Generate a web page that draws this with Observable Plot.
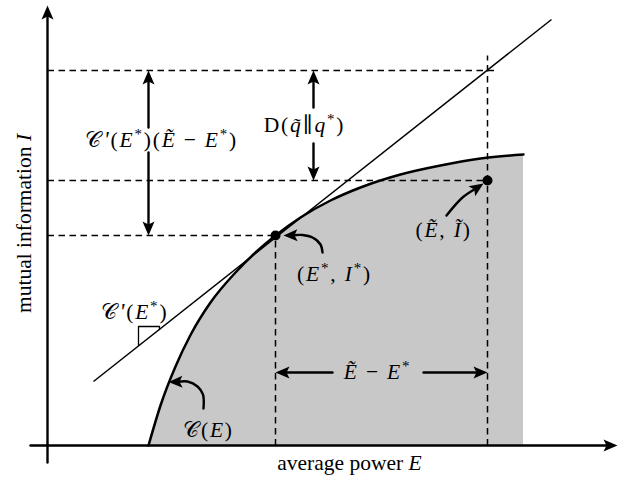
<!DOCTYPE html>
<html><head><meta charset="utf-8">
<script src="https://cdn.jsdelivr.net/npm/d3@7"></script>
<script src="https://cdn.jsdelivr.net/npm/@observablehq/plot@0.6"></script>
<style>body{margin:0;background:#fff} #chart svg{display:block}</style>
</head><body><div id="chart"></div>
<script>
// capacity-power curve C(E) (abstract units)
const curveE = [10.1, 11.3, 12.8, 14.3, 16.3, 18.8, 20.8, 22.8, 25.3, 28.3, 31.3, 35.3, 39.3, 43.3, 47.6];
const curveI = [0, 4.0, 7.9, 11.05, 14.3, 17.3, 19.3, 21.0, 22.8, 24.5, 25.8, 27.1, 28.0, 28.7, 29.1];
// marked points (E*, I*) and (Ẽ, Ĩ)
const pointE = [22.8, 44.0];
const pointI = [21.0, 26.5];
// tangent line at E*
const tangentE = [4.6, 50.4];
const tangentI = [6.4, 42.6];
// dashed guide segments
const guideX1 = [0, 44.0, 0, 0, 22.8];
const guideY1 = [37.5, 0, 26.5, 21.0, 0];
const guideX2 = [45.0, 44.0, 44.0, 22.8, 22.8];
const guideY2 = [37.5, 39.0, 26.5, 21.0, 21.0];
// right-angle marker on the tangent
const markerE = [9.1, 9.1, 11.2, 11.2];
const markerI = [10.0, 11.9, 11.9, 11.6];
// arrows (polylines, last point = tip)
const arrowPaths = [
  [[0, -1.7], [0, 44.0]],                 // y axis
  [[-1.7, 0], [57.0, 0]],                 // x axis
  [[10.1, 31.8], [10.1, 37.5]],
  [[10.1, 29.3], [10.1, 21.0]],
  [[26.6, 33.8], [26.6, 37.5]],
  [[26.6, 30.2], [26.6, 26.5]],
  [[28.5, 7.3], [22.8, 7.3]],
  [[37.6, 7.3], [44.0, 7.3]],
  [[15.6, 3.7], [15.55, 5.1], [15.0, 5.9], [14.0, 6.4], [12.1, 6.35]],
  [[27.5, 19.3], [27.3, 20.1], [26.5, 20.8], [25.5, 21.05], [23.6, 21.0]],
  [[39.9, 23.0], [41.5, 24.8], [43.6, 26.2]]
];
// labels
const labelText = ["𝒞′({E}^*)({Ẽ} − {E}^*)", "D({q̃}∥{q}^*)", "({E}^*, {I}^*)", "({Ẽ}, {Ĩ})", "{Ẽ} − {E}^*", "𝒞({E})", "𝒞′({E}^*)"];
const labelX = [11.4, 25.7, 28.7, 39.6, 33.0, 16.1, 8.7];
const labelY = [30.55, 32.0, 17.1, 21.5, 7.3, 1.5, 13.3];
const xTitle = "average power {E}";
const yTitle = "mutual information {I}";

const curve = curveE.map((e, i) => ({e, i: curveI[i]}));
const points = pointE.map((e, i) => ({e, i: pointI[i]}));
const guides = guideX1.map((x, k) => ({x1: x, y1: guideY1[k], x2: guideX2[k], y2: guideY2[k]}));
const marker = markerE.map((e, k) => ({e, i: markerI[k]}));
const labels = labelText.map((t, k) => ({t, x: labelX[k], y: labelY[k]}));

// shafts (ending under the head) and heads
const shafts = [], heads = [];
arrowPaths.forEach((p, k) => {
  const [ax, ay] = p[p.length - 2], [bx, by] = p[p.length - 1];
  const dx = bx - ax, dy = by - ay, d = Math.hypot(dx, dy);
  const back = 0.9;
  p.forEach((pt, j) => {
    if (j < p.length - 1) shafts.push({x: pt[0], y: pt[1], k});
    else shafts.push({x: bx - dx / d * back, y: by - dy / d * back, k});
  });
  heads.push({x: bx, y: by, r: Math.atan2(dx, dy) * 180 / Math.PI});
});

const headShape = {
  draw(context, l) {
    context.moveTo(0, -l);
    context.lineTo(6, 0);
    context.lineTo(0, -3);
    context.lineTo(-6, 0);
    context.closePath();
  }
};

const font = "Liberation Serif, DejaVu Serif, serif";
const svg = Plot.plot({
  width: 624, height: 483,
  marginLeft: 47, marginRight: 7, marginTop: 5, marginBottom: 38,
  x: {domain: [0, 57], axis: null},
  y: {domain: [0, 44], axis: null},
  style: {background: "white", overflow: "visible"},
  marks: [
    Plot.areaY(curve, {x: "e", y: "i", fill: "#c8c8c8", curve: "monotone-x"}),
    Plot.link(guides, {x1: "x1", y1: "y1", x2: "x2", y2: "y2", stroke: "black", strokeWidth: 1.5, strokeDasharray: "6.5,4.5"}),
    Plot.link([0], {x1: () => tangentE[0], y1: () => tangentI[0], x2: () => tangentE[1], y2: () => tangentI[1], stroke: "black", strokeWidth: 1.5}),
    Plot.line(marker, {x: "e", y: "i", stroke: "black", strokeWidth: 1.3}),
    Plot.line(curve, {x: "e", y: "i", stroke: "black", strokeWidth: 2.5, curve: "monotone-x"}),
    Plot.line(shafts, {x: "x", y: "y", z: "k", stroke: "black", strokeWidth: 2.4, curve: "catmull-rom"}),
    Plot.vector(heads, {x: "x", y: "y", rotate: "r", length: 14, anchor: "end", shape: headShape, fill: "black", stroke: "none"}),
    Plot.dot(points, {x: "e", y: "i", r: 5, fill: "black"}),
    Plot.text(labels, {x: "x", y: "y", text: "t", fontSize: 21.5, fontFamily: font, fill: "black"}),
    Plot.text([xTitle], {x: 30.2, y: -1.8, text: d => d, fontSize: 21.5, fontFamily: font, fill: "black"}),
    Plot.text([yTitle], {x: -2.3, y: 22.2, text: d => d, rotate: -90, fontSize: 21.5, fontFamily: font, fill: "black"})
  ]
});

function typeset(root) {
  for (const t of root.querySelectorAll("text")) {
    const s = t.textContent;
    if (!/[{^′]/.test(s)) continue;
    if (/[(−]/.test(s)) t.setAttribute("letter-spacing", "1.8");
    while (t.firstChild) t.removeChild(t.firstChild);
    const chars = Array.from(s);
    let italic = false;
    const runs = [];
    for (let i = 0; i < chars.length; i++) {
      const c = chars[i];
      if (c === "{") { italic = true; continue; }
      if (c === "}") { italic = false; continue; }
      if (c === "^") { runs.push({text: chars[++i], italic, sup: true}); continue; }
      if (c === "′") { runs.push({text: "'", italic: true, sup: false, prime: true}); continue; }
      const last = runs[runs.length - 1];
      if (last && !last.sup && !last.prime && last.italic === italic) last.text += c;
      else runs.push({text: c, italic, sup: false});
    }
    let up = false;
    for (const r of runs) {
      const ts = document.createElementNS("http://www.w3.org/2000/svg", "tspan");
      ts.textContent = r.text;
      if (r.italic) ts.setAttribute("font-style", "italic");
      if (r.prime) { ts.setAttribute("font-size", "23"); ts.setAttribute("dx", "1"); }
      if (r.sup) { ts.setAttribute("font-size", "15"); if (!up) { ts.setAttribute("dy", "-8"); up = true; } }
      else if (up) { ts.setAttribute("dy", "8"); up = false; }
      t.appendChild(ts);
    }
  }
}
typeset(svg);
document.getElementById("chart").appendChild(svg);
</script></body></html>
